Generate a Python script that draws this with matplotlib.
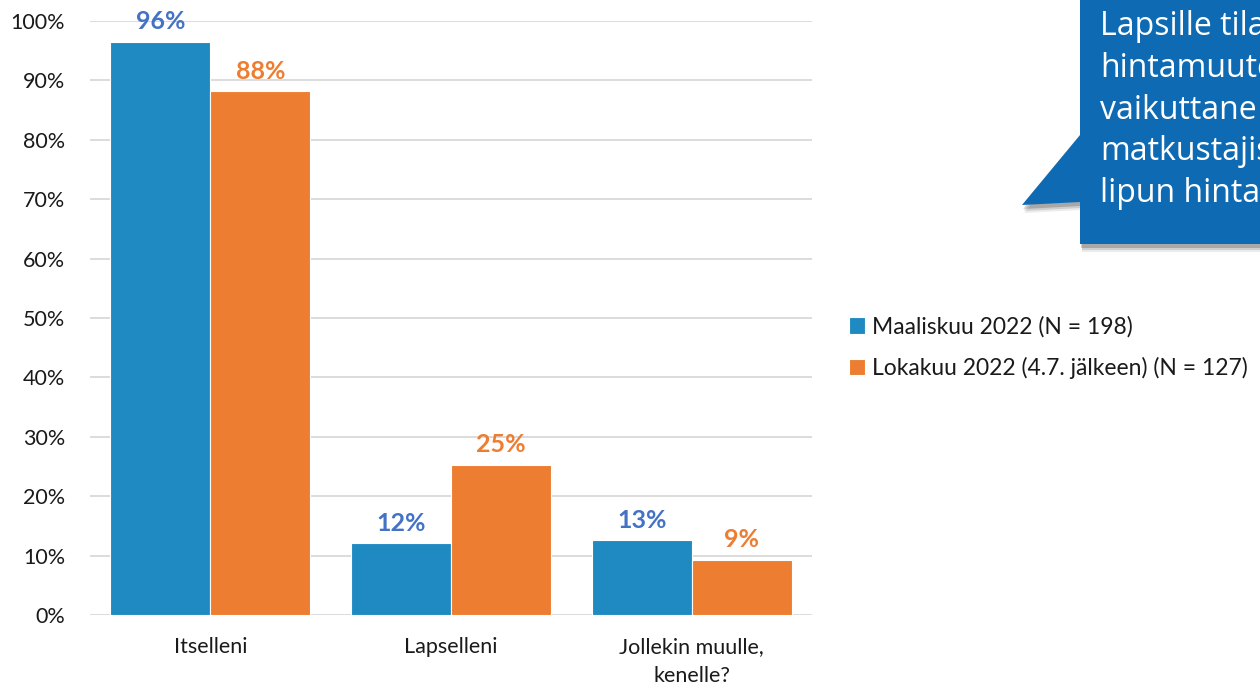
import matplotlib
matplotlib.use("Agg")
import matplotlib.pyplot as plt
from matplotlib.patches import Polygon
import numpy as np

categories = ["Itselleni", "Lapselleni", "Jollekin muulle,\nkenelle?"]
series_names = ["Maaliskuu 2022 (N = 198)", "Lokakuu 2022 (4.7. jälkeen) (N = 127)"]
maaliskuu = [96.5, 12.1, 12.6]
lokakuu = [88.2, 25.3, 9.3]
maaliskuu_labels = ["96%", "12%", "13%"]
lokakuu_labels = ["88%", "25%", "9%"]
yticks = [0, 10, 20, 30, 40, 50, 60, 70, 80, 90, 100]
callout_lines = ["Lapsille tila", "hintamuute", "vaikuttane", "matkustajis", "lipun hinta"]

BLUE = "#1F8AC2"
ORANGE = "#ED7D31"
LBLUE = "#4472C4"
GRID = "#D9D9D9"
FONT = "Lato"
TXT = "#1a1a1a"

fig = plt.figure(figsize=(12.6, 6.9), dpi=100)
ax = fig.add_axes([90/1260, 1 - 615/690, 722/1260, (615 - 21)/690])

x = np.arange(len(categories))
w = 0.415
b1 = ax.bar(x - w/2, maaliskuu, w, color=BLUE, edgecolor="white", linewidth=0.8, label=series_names[0], zorder=3)
b2 = ax.bar(x + w/2, lokakuu, w, color=ORANGE, edgecolor="white", linewidth=0.8, label=series_names[1], zorder=3)

for rect, lab in zip(b1, maaliskuu_labels):
    ax.annotate(lab, (rect.get_x() + rect.get_width()/2, rect.get_height()), xytext=(0, 6),
                textcoords="offset points", ha="center", va="bottom", color=LBLUE,
                fontsize=18, fontweight="bold", family=FONT)
for rect, lab in zip(b2, lokakuu_labels):
    ax.annotate(lab, (rect.get_x() + rect.get_width()/2, rect.get_height()), xytext=(0, 6),
                textcoords="offset points", ha="center", va="bottom", color=ORANGE,
                fontsize=18, fontweight="bold", family=FONT)

ax.set_xlim(-0.5, 2.5)
ax.set_ylim(0, 100)
ax.set_yticks(yticks)
ax.set_yticklabels([f"{t}%" for t in yticks], family=FONT, fontsize=15.5, color=TXT)
ax.set_xticks(x)
ax.set_xticklabels(categories, family=FONT, fontsize=15.5, color=TXT, linespacing=1.55)
ax.tick_params(axis="both", length=0)
ax.tick_params(axis="y", pad=18)
ax.tick_params(axis="x", pad=16)
for s in ax.spines.values():
    s.set_visible(False)
ax.yaxis.grid(True, color=GRID, linewidth=1.3, zorder=0)
ax.set_axisbelow(True)

leg = fig.legend(handles=[b1, b2], labels=series_names, loc="upper left",
                 bbox_to_anchor=(849/1260, 1 - 316/690), frameon=False,
                 prop={"family": FONT, "size": 16.5}, handlelength=0.7, handleheight=0.7,
                 handletextpad=0.3, labelspacing=0.85, borderaxespad=0, borderpad=0)
for t in leg.get_texts():
    t.set_color(TXT)

# Callout overlay
ov = fig.add_axes([0, 0, 1, 1], zorder=5)
ov.set_xlim(0, 1260)
ov.set_ylim(690, 0)
ov.axis("off")
for off, alpha in [(8, 0.08), (6, 0.12), (4, 0.18)]:
    ov.add_patch(Polygon([(1080 + off*0.3, -10), (1275, -10), (1275, 244 + off), (1080 + off*0.3, 244 + off)],
                         closed=True, facecolor="#000000", alpha=alpha, edgecolor="none"))
    ov.add_patch(Polygon([(1080, 135 + off), (1022 + off*0.3, 205 + off), (1080, 202 + off)],
                         closed=True, facecolor="#000000", alpha=alpha, edgecolor="none"))
BOXC = "#0E6BB3"
ov.add_patch(Polygon([(1080, -10), (1275, -10), (1275, 244), (1080, 244), (1080, 202), (1022, 205), (1080, 135)],
                     closed=True, facecolor=BOXC, edgecolor="none"))
for i, line in enumerate(callout_lines):
    ov.text(1100, 35 + i * 41.8, line, color="white", fontsize=23, family="Open Sans",
            ha="left", va="baseline", clip_on=True)

fig.savefig("out.png", dpi=100)
